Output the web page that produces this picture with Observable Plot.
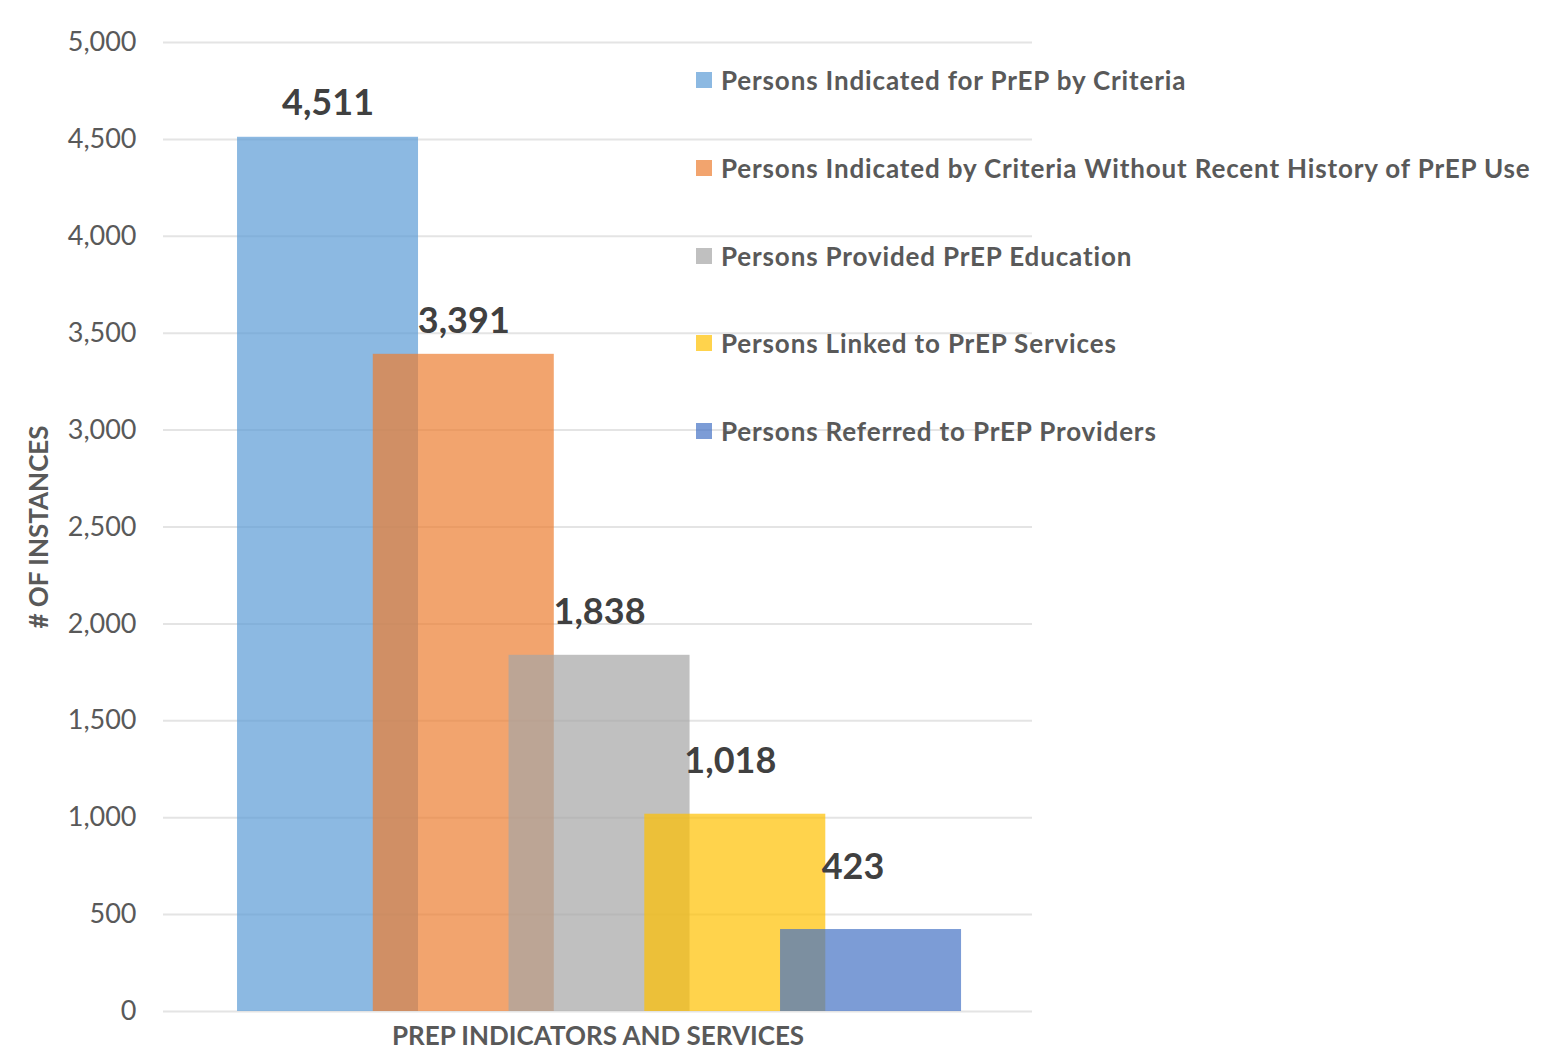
<!DOCTYPE html>
<html>
<head>
<meta charset="utf-8">
<script src="https://cdn.jsdelivr.net/npm/d3@7"></script>
<script src="https://cdn.jsdelivr.net/npm/@observablehq/plot@0.6"></script>
<style>
  body { margin: 0; background: #fff; }
  #wrap { position: relative; width: 1562px; height: 1052px; font-family: Lato, sans-serif; }
  #legend { position: absolute; left: 696px; top: 0; }
  .item { position: absolute; left: 0; white-space: nowrap; display: flex; align-items: center; height: 30px; }
  .sw { width: 16px; height: 16px; margin-right: 9px; flex: none; }
  .lab { font-weight: 700; font-size: 26px; letter-spacing: 0.85px; color: #595959; }
</style>
</head>
<body>
<div id="wrap"><div id="legend"></div></div>
<script>
const categories = [
  "Persons Indicated for PrEP by Criteria",
  "Persons Indicated by Criteria Without Recent History of PrEP Use",
  "Persons Provided PrEP Education",
  "Persons Linked to PrEP Services",
  "Persons Referred to PrEP Providers"
];
const values = [4511, 3391, 1838, 1018, 423];
const colors = ["#5B9BD5", "#ED7D31", "#A5A5A5", "#FFC000", "#4472C4"];
const yTicks = [0, 500, 1000, 1500, 2000, 2500, 3000, 3500, 4000, 4500, 5000];
const yTitle = "# OF INSTANCES";
const xTitle = "PREP INDICATORS AND SERVICES";

// label placement tweaks (style, pixels)
const labelDy = [-22, -21, -31, -41, -51];
const labelDx = [0, 0, 0, -5, -18];

const step = 0.75; // bar overlap 25%
const data = categories.map((c, i) => ({
  name: c, value: values[i], color: colors[i],
  x1: i * step, x2: i * step + 1, xm: i * step + 0.5
}));

const chart = Plot.plot({
  width: 1562,
  height: 1052,
  marginLeft: 163,
  marginRight: 530,
  marginTop: 42,
  marginBottom: 41,
  style: { fontFamily: "Lato, sans-serif", background: "#fff", overflow: "visible" },
  x: { domain: [-0.409, 4.392], axis: null },
  y: { domain: [0, 5000], ticks: yTicks },
  marks: [
    Plot.gridY(yTicks, { stroke: "#e4e4e4", strokeOpacity: 1, strokeWidth: 2 }),
    Plot.axisY(yTicks, {
      tickSize: 0, tickPadding: 27, tickFormat: d3.format(","),
      fontSize: 27, fill: "#595959",
      label: yTitle, labelAnchor: "center", labelOffset: 134, labelArrow: "none"
    }),
    Plot.rect(data, {
      x1: "x1", x2: "x2", y1: 0, y2: "value",
      fill: "color", fillOpacity: 0.7
    }),
    ...data.map((d, i) => Plot.text([d], {
      x: "xm", y: "value", text: d => d3.format(",")(d.value),
      fontSize: 36, fontWeight: 700, fill: "#404040",
      lineAnchor: "bottom", dy: labelDy[i], dx: labelDx[i]
    })),
    Plot.text([xTitle], {
      frameAnchor: "bottom", dy: 25, text: d => d,
      fontSize: 26, fontWeight: 700, fill: "#595959", lineAnchor: "middle"
    })
  ]
});
chart.querySelectorAll("g[aria-label='y-axis label'] text").forEach(t => {
  t.setAttribute("font-size", 26);
  t.setAttribute("font-weight", 700);
  t.setAttribute("fill", "#595959");
});
document.getElementById("wrap").prepend(chart);
chart.style.position = "absolute";
chart.style.left = "0";
chart.style.top = "0";

const legend = document.getElementById("legend");
const centers0 = 80, gap = 87.8;
categories.forEach((c, i) => {
  const it = document.createElement("div");
  it.className = "item";
  it.style.top = (centers0 + i * gap - 15) + "px";
  const sw = document.createElement("div");
  sw.className = "sw";
  sw.style.background = colors[i];
  sw.style.opacity = 0.7;
  const lab = document.createElement("span");
  lab.className = "lab";
  lab.textContent = c;
  it.append(sw, lab);
  legend.append(it);
});
</script>
</body>
</html>
